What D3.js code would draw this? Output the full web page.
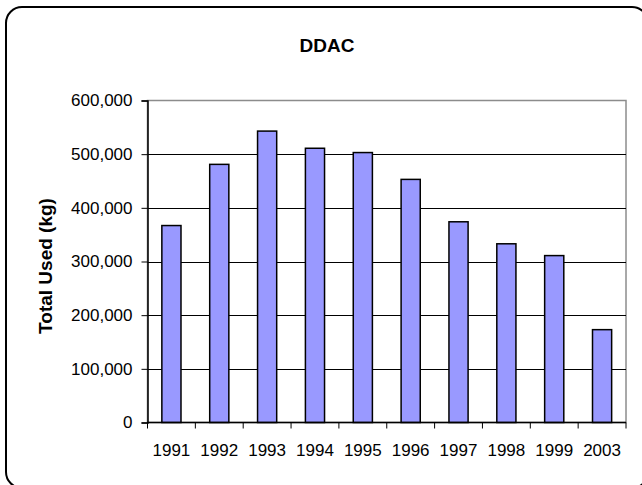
<!DOCTYPE html>
<html>
<head>
<meta charset="utf-8">
<script src="https://cdn.jsdelivr.net/npm/d3@7"></script>
<style>
  html, body { margin: 0; padding: 0; background: #fff; }
  svg { display: block; font-family: Arial, "Liberation Sans", sans-serif; }
</style>
</head>
<body>
<svg id="chart" width="642" height="485"></svg>
<script>
const categories = ["1991", "1992", "1993", "1994", "1995", "1996", "1997", "1998", "1999", "2003"];
const values = [367000, 481000, 543000, 511000, 503000, 453000, 374000, 333000, 311000, 173000];
const yTicks = [0, 100000, 200000, 300000, 400000, 500000, 600000];
const chartTitle = "DDAC";
const yTitle = "Total Used (kg)";

const svg = d3.select("#chart");
const plot = { left: 147.5, right: 626, top: 100.5, bottom: 422.5 };

// outer rounded frame
svg.append("rect")
  .attr("x", 6).attr("y", 7).attr("width", 642).attr("height", 481)
  .attr("rx", 16).attr("ry", 16)
  .attr("fill", "#fff").attr("stroke", "#000").attr("stroke-width", 2);

const x = d3.scaleBand().domain(categories).range([plot.left, plot.right]).paddingInner(0.6).paddingOuter(0.3);
const y = d3.scaleLinear().domain([0, 600000]).range([plot.bottom, plot.top]);

// plot area border (top/right gray)
svg.append("rect")
  .attr("x", plot.left).attr("y", plot.top)
  .attr("width", plot.right - plot.left).attr("height", plot.bottom - plot.top)
  .attr("fill", "none").attr("stroke", "#8c8c8c").attr("stroke-width", 1.5);

// gridlines
svg.append("g").selectAll("line").data(yTicks.filter(d => d > 0 && d < 600000)).join("line")
  .attr("x1", plot.left).attr("x2", plot.right)
  .attr("y1", d => Math.round(y(d)) + 0.5).attr("y2", d => Math.round(y(d)) + 0.5)
  .attr("stroke", "#000").attr("stroke-width", 1);

// bars
svg.append("g").selectAll("rect").data(values).join("rect")
  .attr("x", (d, i) => x(categories[i]))
  .attr("y", d => y(d))
  .attr("width", x.bandwidth())
  .attr("height", d => y(0) - y(d))
  .attr("fill", "#9999ff").attr("stroke", "#000").attr("stroke-width", 1.5);

// y axis
const yAxis = d3.axisLeft(y).tickValues(yTicks).tickSize(6).tickPadding(9)
  .tickFormat(d3.format(","));
const gy = svg.append("g").attr("transform", `translate(${plot.left},0)`).call(yAxis);
gy.select(".domain").attr("stroke", "#000").attr("stroke-width", 1.5);
gy.selectAll(".tick line").attr("stroke", "#000");
gy.selectAll("text").attr("font-size", 17).attr("fill", "#000")
  .attr("font-family", "Arial, 'Liberation Sans', sans-serif");

// x axis: ticks at band boundaries
const xb = d3.scaleLinear().domain([0, categories.length]).range([plot.left, plot.right]);
const gx = svg.append("g").attr("transform", `translate(0,${plot.bottom})`);
gx.append("line").attr("x1", plot.left).attr("x2", plot.right).attr("y1", 0).attr("y2", 0)
  .attr("stroke", "#000").attr("stroke-width", 1.5);
gx.selectAll("line.tk").data(d3.range(categories.length + 1)).join("line").attr("class", "tk")
  .attr("x1", d => xb(d)).attr("x2", d => xb(d)).attr("y1", 0).attr("y2", 6)
  .attr("stroke", "#000");
gx.selectAll("text").data(categories).join("text")
  .attr("x", d => x(d) + x.bandwidth() / 2).attr("y", 33)
  .attr("text-anchor", "middle").attr("font-size", 17).attr("fill", "#000")
  .text(d => d);

// title
svg.append("text").attr("x", 327).attr("y", 52).attr("text-anchor", "middle")
  .attr("font-size", 19).attr("font-weight", "bold").text(chartTitle);

// y axis title
svg.append("text").attr("transform", "translate(52,266) rotate(-90)")
  .attr("text-anchor", "middle").attr("font-size", 19).attr("font-weight", "bold").text(yTitle);
</script>
</body>
</html>
